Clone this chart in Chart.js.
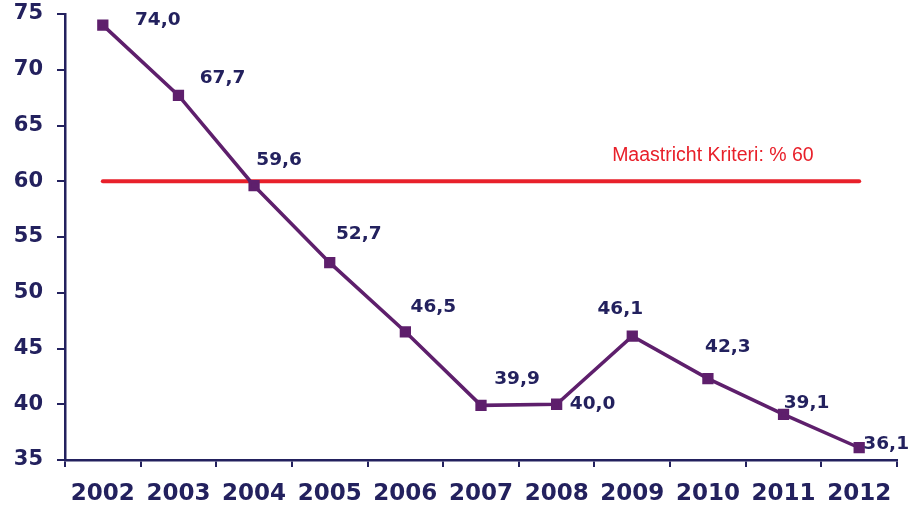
<!DOCTYPE html>
<html>
<head>
<meta charset="utf-8">
<script src="https://cdn.jsdelivr.net/npm/chart.js@4/dist/chart.umd.min.js"></script>
<style>
  html, body { margin: 0; padding: 0; background: #fff; }
  #wrap { width: 921px; height: 508px; }
</style>
</head>
<body>
<div id="wrap"><canvas id="chart" width="921" height="508"></canvas></div>
<script>
// data
const years = ['2002', '2003', '2004', '2005', '2006', '2007', '2008', '2009', '2010', '2011', '2012'];
const debtRatio = [74.0, 67.7, 59.6, 52.7, 46.5, 39.9, 40.0, 46.1, 42.3, 39.1, 36.1];
const maastricht = [60, 60, 60, 60, 60, 60, 60, 60, 60, 60, 60];
const maastrichtLabel = 'Maastricht Kriteri: % 60';
const yTicks = [35, 40, 45, 50, 55, 60, 65, 70, 75];

const navy = '#23215e';
const purple = '#5e1f6c';
const red = '#e8202a';

// where each value label sits relative to its point (dx, dy in px)
const labelOffsets = [
  [55, -5], [44, -17], [25, -26], [29, -28], [28, -25], [36, -26],
  [36, 0], [-12, -27], [20, -31], [23, -11], [27, -4]
];

const valueLabels = {
  id: 'valueLabels',
  afterDatasetsDraw(chart) {
    const ctx = chart.ctx;
    const meta = chart.getDatasetMeta(0);
    ctx.save();
    ctx.font = 'bold 18.5px "DejaVu Sans", sans-serif';
    ctx.fillStyle = navy;
    ctx.textAlign = 'center';
    ctx.textBaseline = 'middle';
    meta.data.forEach((pt, i) => {
      const txt = debtRatio[i].toFixed(1).replace('.', ',');
      ctx.fillText(txt, pt.x + labelOffsets[i][0], pt.y + labelOffsets[i][1]);
    });
    // criterion caption above the red line
    const xs = chart.scales.x, ys = chart.scales.y;
    ctx.font = '19.5px "Liberation Sans", Arial, sans-serif';
    ctx.fillStyle = red;
    ctx.fillText(maastrichtLabel, xs.getPixelForValue(8) + 5, ys.getPixelForValue(60) - 26);
    ctx.restore();
  }
};

new Chart(document.getElementById('chart'), {
  type: 'line',
  data: {
    labels: years,
    datasets: [
      {
        label: 'Borç / GSYH',
        data: debtRatio,
        borderColor: purple,
        backgroundColor: purple,
        borderWidth: 3.5,
        pointStyle: 'rect',
        pointRadius: 5.5,
        pointHoverRadius: 5.5,
        tension: 0,
        order: 0
      },
      {
        label: maastrichtLabel,
        data: maastricht,
        borderColor: red,
        borderWidth: 4,
        borderCapStyle: 'round',
        pointRadius: 0,
        pointHoverRadius: 0,
        order: 1
      }
    ]
  },
  options: {
    responsive: false,
    animation: false,
    events: [],
    layout: { padding: { top: 14, right: 24, left: 0, bottom: 0 } },
    plugins: {
      legend: { display: false },
      tooltip: { enabled: false }
    },
    scales: {
      x: {
        offset: true,
        grid: {
          offset: true,
          drawOnChartArea: false,
          drawTicks: true,
          tickLength: 7,
          color: navy,
          lineWidth: 2
        },
        border: { display: true, color: navy, width: 2.5 },
        ticks: {
          color: navy,
          padding: 13,
          maxRotation: 0,
          autoSkip: false,
          font: { family: '"DejaVu Sans", sans-serif', weight: 'bold', size: 23 }
        },
        afterFit(scale) {
          scale.height = 48;
          scale.paddingLeft = 0;
          scale.paddingRight = 0;
        }
      },
      y: {
        min: 35,
        max: 75,
        afterBuildTicks(scale) { scale.ticks = yTicks.map(v => ({ value: v })); },
        grid: {
          drawOnChartArea: false,
          drawTicks: true,
          tickLength: 8,
          color: navy,
          lineWidth: 2
        },
        border: { display: true, color: navy, width: 2.5 },
        ticks: {
          color: navy,
          padding: 14,
          font: { family: '"DejaVu Sans", sans-serif', weight: 'bold', size: 21 }
        },
        afterFit(scale) {
          scale.width = 65;
          scale.paddingTop = 0;
          scale.paddingBottom = 0;
        }
      }
    }
  },
  plugins: [valueLabels]
});
</script>
</body>
</html>
